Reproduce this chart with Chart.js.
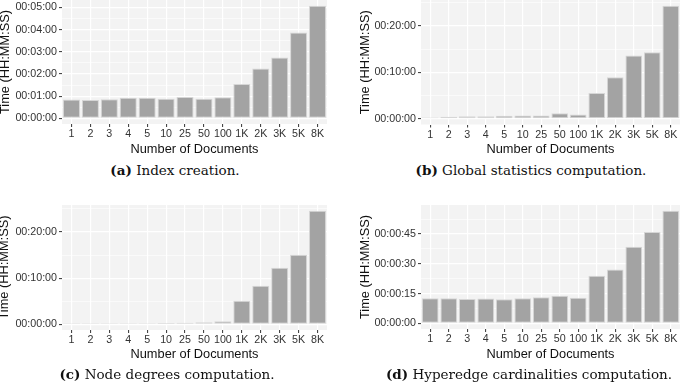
<!DOCTYPE html>
<html>
<head>
<meta charset="utf-8">
<script src="https://cdn.jsdelivr.net/npm/chart.js@4/dist/chart.umd.min.js"></script>
<style>
  body { margin: 0; background: #fff; width: 685px; height: 387px; position: relative; overflow: hidden; }
  .panel { position: absolute; }
  .cap { position: absolute; text-align: center; font-family: "DejaVu Serif", serif; font-size: 13.5px; color: #111; white-space: nowrap; }
  .cap b { font-weight: bold; }
</style>
</head>
<body>
<div class="panel" style="left:0;top:0;width:345px;height:162px"><canvas id="chartA"></canvas></div>
<div class="panel" style="left:345px;top:0;width:340px;height:162px"><canvas id="chartB"></canvas></div>
<div class="panel" style="left:0;top:195px;width:345px;height:172px"><canvas id="chartC"></canvas></div>
<div class="panel" style="left:345px;top:195px;width:340px;height:172px"><canvas id="chartD"></canvas></div>
<div class="cap" style="left:0;width:350px;top:162px"><b>(a)</b> Index creation.</div>
<div class="cap" style="left:345px;width:372px;top:162px"><b>(b)</b> Global statistics computation.</div>
<div class="cap" style="left:0;width:334px;top:366px"><b>(c)</b> Node degrees computation.</div>
<div class="cap" style="left:345px;width:368px;top:366px"><b>(d)</b> Hyperedge cardinalities computation.</div>
<script>
// number of documents
var docLabels = ["1", "2", "3", "4", "5", "10", "25", "50", "100", "1K", "2K", "3K", "5K", "8K"];

// times in seconds
var indexCreation = [51, 50, 52, 56, 56, 53, 58, 53, 57, 93, 135, 165, 232, 305];
var globalStats = [17, 26, 34, 34, 39, 43, 43, 73, 56, 335, 538, 817, 860, 1462];
var nodeDegrees = [13, 13, 13, 13, 13, 17, 22, 26, 39, 307, 502, 736, 905, 1477];
var hyperedgeCard = [12.7, 12.7, 12.3, 12.5, 12.2, 12.7, 13.2, 13.9, 12.9, 24.0, 27.1, 38.6, 46.0, 56.8];

// y tick step (seconds) per chart
var tickSteps = [60, 600, 600, 15];

function hms(sec) {
  var h = Math.floor(sec / 3600);
  var m = Math.floor((sec % 3600) / 60);
  var s = Math.round(sec % 60);
  function p(n) { return (n < 10 ? "0" : "") + n; }
  return p(h) + ":" + p(m) + ":" + p(s);
}

var panelBg = {
  id: "panelBg",
  beforeDraw: function (chart) {
    var a = chart.chartArea, ctx = chart.ctx;
    ctx.save();
    ctx.fillStyle = "#f3f3f3";
    ctx.fillRect(a.left, a.top, a.right - a.left, a.bottom - a.top);
    ctx.restore();
  }
};

function makeChart(id, values, step, axisW, padTop, padRight, xAxisH, titleOff) {
  var top = Math.max.apply(null, values);
  var isMajor = function (v) { return Math.abs(v / step - Math.round(v / step)) < 1e-6; };
  return new Chart(document.getElementById(id), {
    type: "bar",
    data: {
      labels: docLabels,
      datasets: [{
        data: values,
        backgroundColor: "#a3a3a3",
        borderColor: "#d6d6d6",
        borderWidth: 1,
        borderSkipped: false,
        categoryPercentage: 0.9,
        barPercentage: 1.0
      }]
    },
    options: {
      responsive: true,
      maintainAspectRatio: false,
      animation: false,
      layout: { padding: { top: padTop, right: padRight, left: 0, bottom: 0 } },
      plugins: { legend: { display: false }, tooltip: { enabled: false } },
      scales: {
        x: {
          type: "category",
          offset: true,
          border: { display: false },
          grid: { offset: false, color: "#ffffff", lineWidth: 1.2, tickColor: "#333333", tickLength: 3, tickWidth: 1 },
          ticks: { color: "#333333", padding: 1, maxRotation: 0, autoSkip: false,
                   font: { family: "Liberation Sans, Arial, sans-serif", size: 10.7 } },
          title: { display: true, text: "Number of Documents", color: "#111111",
                   font: { family: "Liberation Sans, Arial, sans-serif", size: 12.8 }, padding: { top: 0, bottom: 5 } },
          afterFit: function (s) { s.height = xAxisH; s.paddingLeft = 0; s.paddingRight = 0; }
        },
        y: {
          min: -0.05 * top,
          max: 1.05 * top,
          border: { display: false },
          afterBuildTicks: function (s) {
            var t = [];
            for (var v = 0; v <= s.max; v += step / 2) t.push({ value: v });
            s.ticks = t;
          },
          grid: {
            color: "#ffffff",
            lineWidth: function (c) { return c.tick && isMajor(c.tick.value) ? 1.2 : 0.6; },
            tickColor: function (c) { return c.tick && isMajor(c.tick.value) ? "#333333" : "rgba(0,0,0,0)"; },
            tickLength: 3,
            tickWidth: 1
          },
          ticks: {
            color: "#333333",
            padding: 2,
            autoSkip: false,
            font: { family: "Liberation Sans, Arial, sans-serif", size: 10.7 },
            callback: function (v) { return isMajor(v) ? hms(v) : ""; }
          },
          title: { display: true, text: "Time (HH:MM:SS)", color: "#111111",
                   font: { family: "Liberation Sans, Arial, sans-serif", size: 12.8, lineHeight: 1 },
                   padding: { top: titleOff, bottom: 0 } },
          afterFit: function (s) { s.width = axisW; s.paddingTop = 0; s.paddingBottom = 0; }
        }
      }
    },
    plugins: [panelBg]
  });
}

makeChart("chartA", indexCreation, tickSteps[0], 62, 0, 18, 38, -1);
makeChart("chartB", globalStats, tickSteps[1], 76, 0, 5, 37.5, 13.6);
makeChart("chartC", nodeDegrees, tickSteps[2], 62, 10, 18, 37, -2);
makeChart("chartD", hyperedgeCard, tickSteps[3], 76, 10, 5, 38, 13.6);
</script>
</body>
</html>
